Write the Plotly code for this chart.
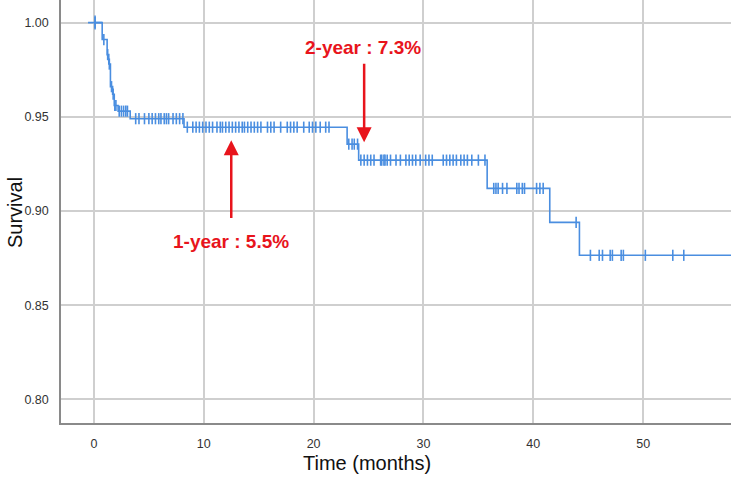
import numpy as np
import plotly.graph_objects as go

# Kaplan-Meier step data (event times in months, survival level after the event)
step_times = [0, 0.75, 1.2, 1.35, 1.5, 1.7, 1.85, 2.2, 3.3, 8.2, 23.05, 24.1, 35.8, 41.5, 44.2]
step_surv = [1.000, 0.991, 0.983, 0.978, 0.966, 0.962, 0.956, 0.953, 0.949, 0.9445, 0.9355, 0.927, 0.912, 0.894, 0.8765]
follow_up_end = 58.0

# Censored observations (months)
censor_times = [
    0.1, 0.9, 1.25, 1.4, 1.6, 1.75, 1.9, 2.0, 2.3, 2.5, 2.7, 2.9, 3.05,
    3.8, 4.1, 4.6, 5.0, 5.3, 5.6, 5.9, 6.1, 6.4, 6.6, 6.8, 7.2, 7.5, 7.8, 8.1,
    8.5, 9.0, 9.3, 9.6, 9.9, 10.2, 10.5, 10.8, 11.2, 11.5, 11.7, 12.0, 12.3, 12.6, 12.9, 13.2, 13.5,
    13.7, 14.0, 14.3, 14.6, 14.9, 15.2, 15.8, 16.1, 16.4, 17.0, 17.6, 17.9, 18.2, 18.5,
    19.1, 19.6, 19.9, 20.2, 20.6, 21.1, 21.4,
    23.2, 23.5, 23.7, 24.0,
    24.3, 24.6, 24.9, 25.2, 25.5, 26.1, 26.2, 26.4, 26.5, 26.7, 27.0, 27.5, 27.9, 28.4, 28.7,
    29.0, 29.3, 29.7, 30.2, 30.5, 30.8, 31.8, 32.1, 32.4, 32.7, 33.0, 33.4, 33.7, 34.0, 34.4, 35.0, 35.6,
    36.4, 36.6, 36.8, 37.2, 37.6, 38.5, 38.7, 39.0, 39.2, 40.3, 40.6, 40.9,
    43.9,
    45.2, 46.0, 46.3, 47.0, 47.2, 48.0, 48.2, 50.2, 52.7, 53.7,
]

x_ticks = [0, 10, 20, 30, 40, 50]
y_ticks = [0.80, 0.85, 0.90, 0.95, 1.00]

line_x = step_times + [follow_up_end]
line_y = step_surv + [step_surv[-1]]
idx = np.searchsorted(np.array(step_times), np.array(censor_times), side="right") - 1
censor_surv = [step_surv[i] for i in idx]

blue = "#4a8ee0"
red = "#e8141c"

fig = go.Figure()
fig.add_trace(go.Scatter(x=line_x, y=line_y, mode="lines", line=dict(color=blue, width=1.6, shape="hv"),
                         showlegend=False, hoverinfo="skip"))
fig.add_trace(go.Scatter(x=censor_times, y=censor_surv, mode="markers",
                         marker=dict(symbol="line-ns-open", size=8, color=blue, line=dict(color=blue, width=1.6)),
                         showlegend=False))
# start marker cross
fig.add_trace(go.Scatter(x=[censor_times[0]], y=[censor_surv[0]], mode="markers",
                         marker=dict(symbol="cross-thin-open", size=10, color=blue, line=dict(color=blue, width=1.6)),
                         showlegend=False))

# arrows
fig.add_annotation(x=24.6, y=0.9365, ax=24.6, ay=0.979, xref="x", yref="y", axref="x", ayref="y",
                   text="", showarrow=True, arrowhead=2, arrowsize=1.2, arrowwidth=2.5, arrowcolor=red)
fig.add_annotation(x=12.5, y=0.9375, ax=12.5, ay=0.8955, xref="x", yref="y", axref="x", ayref="y",
                   text="", showarrow=True, arrowhead=2, arrowsize=1.2, arrowwidth=2.5, arrowcolor=red)
fig.add_annotation(x=24.45, y=0.987, xref="x", yref="y", text="<b>2-year : 7.3%</b>", showarrow=False,
                   font=dict(family="Liberation Sans, Arial", size=19, color=red))
fig.add_annotation(x=12.5, y=0.884, xref="x", yref="y", text="<b>1-year : 5.5%</b>", showarrow=False,
                   font=dict(family="Liberation Sans, Arial", size=19, color=red))

# axis titles (positions in pixels, converted to paper coords below)
fig.add_annotation(x=367, y=463, xref="paper", yref="paper", text="Time (months)", showarrow=False,
                   font=dict(family="Liberation Sans, Arial", size=20, color="#111"))
fig.add_annotation(x=15, y=213, xref="paper", yref="paper", text="Survival", showarrow=False, textangle=-90,
                   font=dict(family="Liberation Sans, Arial", size=20, color="#111"))

fig.update_layout(
    width=731, height=479,
    margin=dict(l=61, r=0, t=0, b=56),
    paper_bgcolor="white", plot_bgcolor="white",
    font=dict(family="Liberation Sans, Arial", size=12.5, color="#333"),
    xaxis=dict(range=[-3.0, 58.0], tickvals=x_ticks, ticktext=[str(v) for v in x_ticks],
               showgrid=True, gridcolor="#cfcfcf", gridwidth=2, zeroline=False,
               showline=True, linecolor="#8a8a8a", linewidth=1.5, ticks="", ticklabelstandoff=8),
    yaxis=dict(range=[0.7875, 1.012], tickvals=y_ticks, ticktext=["%.2f" % v for v in y_ticks],
               showgrid=True, gridcolor="#cfcfcf", gridwidth=2, zeroline=False,
               showline=True, linecolor="#8a8a8a", linewidth=1.5, ticks="", ticklabelstandoff=8),
)

for a in fig.layout.annotations:
    if a.xref == "paper" and a.x > 1:
        px, py = a.x, a.y
        a.x = (px - 61) / (731 - 61)
        a.y = (479 - 56 - py) / (479 - 56)
        a.xanchor = "center"; a.yanchor = "middle"

fig.write_html("out.html", config={"displayModeBar": False},
               post_script="document.body.style.margin='0px';document.body.style.overflow='hidden';")
